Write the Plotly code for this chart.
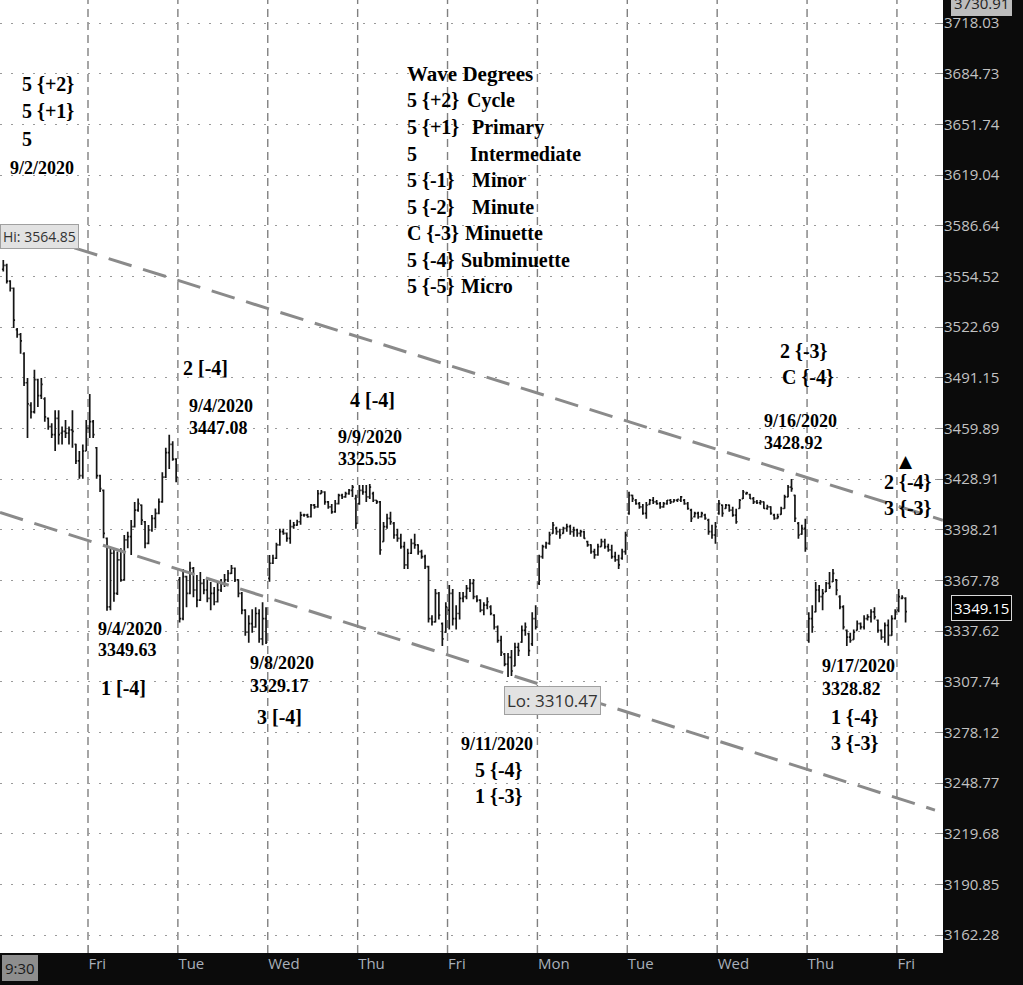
import plotly.graph_objects as go
import math

# ---------------- data: 15-minute OHLC bars per session (open, high, low, close)
thu_0903 = [
    (3559.0, 3564.85, 3557.5, 3561.5), (3561.5, 3562.5, 3550.0, 3551.5), (3551.5, 3552.0, 3545.0, 3547.0),
    (3547.0, 3547.5, 3522.0, 3527.0), (3521.0, 3522.0, 3516.0, 3518.0), (3518.0, 3519.0, 3506.0, 3514.0),
    (3506.0, 3507.0, 3486.0, 3488.0), (3488.0, 3491.0, 3454.0, 3475.0), (3474.0, 3476.0, 3466.0, 3470.0),
    (3470.0, 3496.0, 3469.0, 3490.0), (3490.0, 3490.5, 3473.0, 3480.0), (3480.0, 3491.0, 3478.0, 3487.0),
    (3478.0, 3479.0, 3464.0, 3467.0), (3466.0, 3466.5, 3459.0, 3461.0), (3461.0, 3463.0, 3454.0, 3456.0),
    (3456.0, 3471.0, 3446.0, 3466.0), (3466.0, 3471.0, 3450.0, 3456.0), (3457.0, 3461.0, 3450.0, 3458.0),
    (3458.0, 3465.0, 3454.0, 3457.0), (3457.0, 3461.0, 3450.0, 3459.0), (3459.0, 3471.0, 3448.0, 3458.0),
    (3450.0, 3450.5, 3438.0, 3440.0), (3440.0, 3446.0, 3429.0, 3431.0),
    (3431.0, 3450.0, 3429.0, 3446.0), (3446.0, 3465.0, 3446.0, 3460.0),
]
fri_0904 = [
    (3460.0, 3481.0, 3454.0, 3464.0), (3464.0, 3465.0, 3454.0, 3456.0), (3448.0, 3448.5, 3429.0, 3431.0),
    (3431.0, 3431.5, 3421.0, 3423.0), (3422.0, 3422.5, 3393.0, 3396.0), (3393.0, 3393.5, 3349.63, 3352.0),
    (3352.0, 3387.0, 3350.0, 3384.0), (3384.0, 3387.0, 3355.0, 3360.0), (3360.0, 3385.0, 3359.0, 3380.0),
    (3380.0, 3387.0, 3367.0, 3368.0), (3368.0, 3395.0, 3367.5, 3392.0), (3392.0, 3397.0, 3387.0, 3394.0),
    (3394.0, 3404.0, 3383.0, 3400.0), (3400.0, 3415.0, 3399.5, 3410.0), (3410.0, 3417.0, 3409.0, 3414.0),
    (3413.0, 3413.5, 3401.0, 3404.0), (3403.0, 3403.5, 3387.0, 3390.0), (3390.0, 3401.0, 3389.5, 3398.0),
    (3398.0, 3407.0, 3397.0, 3405.0), (3405.0, 3411.0, 3399.0, 3408.0), (3408.0, 3417.0, 3407.5, 3415.0),
    (3415.0, 3433.0, 3414.5, 3430.0), (3430.0, 3448.0, 3429.5, 3445.0), (3445.0, 3456.0, 3435.0, 3450.0),
    (3450.0, 3452.0, 3440.0, 3441.0), (3441.0, 3441.5, 3427.0, 3430.0),
]
tue_0908 = [
    (3368.0, 3369.8, 3342.7, 3345.0), (3345.0, 3374.6, 3344.0, 3370.0), (3370.0, 3370.5, 3351.7, 3360.0),
    (3360.0, 3378.9, 3359.5, 3375.0), (3375.0, 3375.8, 3357.7, 3362.0), (3362.0, 3371.0, 3351.7, 3356.0),
    (3356.0, 3372.8, 3355.5, 3366.0), (3366.0, 3368.6, 3359.5, 3362.0), (3362.0, 3368.6, 3354.7, 3357.0),
    (3357.0, 3366.8, 3350.0, 3360.0), (3360.0, 3363.8, 3352.9, 3355.0), (3355.0, 3366.8, 3354.5, 3362.0),
    (3362.0, 3368.6, 3360.8, 3366.0), (3366.0, 3371.6, 3363.8, 3368.0), (3368.0, 3374.0, 3366.8, 3372.0),
    (3372.0, 3377.0, 3371.6, 3375.0), (3375.0, 3375.5, 3366.8, 3368.0), (3368.0, 3368.5, 3357.7, 3360.0),
    (3360.0, 3360.8, 3347.5, 3350.0), (3350.0, 3350.5, 3334.8, 3337.0), (3337.0, 3346.9, 3330.6, 3342.0),
    (3342.0, 3350.5, 3336.6, 3340.0), (3340.0, 3351.7, 3339.5, 3348.0), (3348.0, 3350.5, 3330.6, 3333.0),
    (3333.0, 3354.7, 3329.17, 3345.0), (3345.0, 3351.7, 3330.0, 3331.0),
]
wed_0909 = [
    (3369.0, 3383.0, 3367.0, 3378.0), (3378.0, 3383.1, 3377.5, 3381.0), (3381.0, 3390.3, 3380.5, 3389.0),
    (3389.0, 3398.8, 3388.5, 3397.0), (3397.0, 3398.8, 3395.1, 3396.0), (3396.0, 3396.5, 3390.9, 3393.0),
    (3393.0, 3404.2, 3389.7, 3400.0), (3400.0, 3402.9, 3398.8, 3401.0), (3401.0, 3404.2, 3400.5, 3403.0),
    (3403.0, 3409.0, 3401.2, 3407.0), (3407.0, 3407.8, 3406.0, 3407.2), (3407.0, 3407.8, 3405.4, 3406.0),
    (3406.0, 3413.8, 3405.5, 3413.0), (3413.0, 3413.8, 3410.8, 3412.0), (3412.0, 3422.3, 3411.5, 3420.0),
    (3420.0, 3422.3, 3419.9, 3421.0), (3421.0, 3421.5, 3413.2, 3415.0), (3415.0, 3415.5, 3410.8, 3412.0),
    (3412.0, 3413.8, 3407.8, 3409.0), (3409.0, 3416.2, 3408.5, 3414.0), (3414.0, 3419.9, 3413.5, 3419.0),
    (3419.0, 3419.9, 3416.8, 3418.0), (3418.0, 3421.1, 3417.5, 3420.0), (3420.0, 3422.9, 3419.3, 3422.0),
    (3422.0, 3425.3, 3418.0, 3424.0), (3417.0, 3419.3, 3398.8, 3402.0),
]
thu_0910 = [
    (3414.0, 3425.3, 3413.2, 3422.0), (3422.0, 3425.3, 3419.3, 3421.0), (3421.0, 3425.3, 3415.0, 3418.0),
    (3418.0, 3425.9, 3416.8, 3424.0), (3420.0, 3421.1, 3415.0, 3416.0), (3416.0, 3416.2, 3413.8, 3415.0),
    (3415.0, 3415.5, 3383.1, 3386.0), (3391.0, 3402.9, 3390.9, 3400.0), (3400.0, 3407.8, 3398.8, 3405.0),
    (3405.0, 3409.0, 3401.2, 3403.0), (3402.0, 3402.9, 3392.7, 3395.0), (3395.0, 3398.8, 3390.9, 3393.0),
    (3393.0, 3395.7, 3386.7, 3388.0), (3388.0, 3390.9, 3374.6, 3377.0), (3377.0, 3386.7, 3374.6, 3384.0),
    (3384.0, 3392.7, 3383.5, 3390.0), (3390.0, 3395.7, 3386.7, 3389.0), (3389.0, 3389.5, 3383.1, 3385.0),
    (3385.0, 3386.1, 3380.7, 3382.0), (3382.0, 3383.1, 3374.6, 3376.0), (3376.0, 3376.5, 3342.7, 3345.0),
    (3345.0, 3346.9, 3340.9, 3343.0), (3343.0, 3362.6, 3342.7, 3360.0), (3360.0, 3360.8, 3344.5, 3347.0),
    (3342.0, 3342.7, 3328.8, 3333.0), (3337.0, 3354.7, 3336.6, 3352.0),
]
fri_0911 = [
    (3350.0, 3365.0, 3338.5, 3360.0), (3360.0, 3362.6, 3340.9, 3345.0), (3345.0, 3352.9, 3338.5, 3348.0),
    (3348.0, 3360.8, 3344.5, 3357.0), (3357.0, 3360.8, 3354.7, 3358.0), (3358.0, 3365.0, 3356.5, 3363.0),
    (3363.0, 3368.6, 3360.8, 3366.0), (3366.0, 3368.6, 3356.5, 3358.0), (3358.0, 3358.9, 3354.7, 3356.0),
    (3356.0, 3356.5, 3348.7, 3350.0), (3350.0, 3354.7, 3346.9, 3353.0), (3353.0, 3357.7, 3350.5, 3355.0),
    (3352.0, 3352.9, 3346.9, 3348.0), (3347.0, 3347.5, 3338.5, 3340.0), (3340.0, 3340.9, 3330.6, 3332.0),
    (3332.0, 3334.8, 3322.8, 3325.0), (3324.0, 3324.6, 3316.8, 3318.0), (3318.0, 3324.6, 3310.47, 3322.0),
    (3322.0, 3326.4, 3311.0, 3314.0), (3317.0, 3330.6, 3316.8, 3328.0), (3328.0, 3330.6, 3322.8, 3326.0),
    (3331.0, 3340.9, 3330.6, 3338.0), (3338.0, 3342.7, 3334.8, 3340.0), (3336.0, 3336.6, 3322.8, 3326.0),
    (3330.0, 3348.7, 3328.8, 3345.0), (3345.0, 3352.9, 3338.5, 3340.0),
]
mon_0914 = [
    (3366.0, 3383.1, 3365.0, 3382.0), (3382.0, 3389.1, 3380.7, 3388.0), (3388.0, 3390.9, 3386.7, 3390.0),
    (3390.0, 3396.9, 3389.1, 3395.0), (3396.0, 3402.9, 3395.7, 3401.0), (3399.0, 3400.0, 3395.1, 3397.0),
    (3397.0, 3398.8, 3392.7, 3395.0), (3396.0, 3400.0, 3395.7, 3399.0), (3399.0, 3401.8, 3396.9, 3400.0),
    (3400.0, 3401.2, 3395.1, 3397.0), (3397.0, 3400.0, 3393.9, 3398.0), (3398.0, 3398.8, 3393.9, 3396.0),
    (3396.0, 3398.2, 3393.9, 3397.0), (3397.0, 3397.5, 3392.7, 3393.0), (3391.0, 3391.5, 3387.9, 3389.0),
    (3389.0, 3389.5, 3383.7, 3385.0), (3385.0, 3386.7, 3380.7, 3383.0), (3383.0, 3389.7, 3382.5, 3388.0),
    (3388.0, 3392.7, 3387.9, 3391.0), (3391.0, 3392.7, 3386.7, 3388.0), (3388.0, 3389.7, 3384.9, 3386.0),
    (3386.0, 3389.1, 3380.7, 3382.0), (3382.0, 3384.9, 3378.9, 3380.0), (3380.0, 3383.1, 3374.6, 3377.0),
    (3381.0, 3386.7, 3380.1, 3385.0), (3385.0, 3396.9, 3383.1, 3395.0),
]
tue_0915 = [
    (3408.0, 3421.1, 3407.2, 3419.0), (3419.0, 3419.3, 3415.0, 3417.0), (3416.0, 3416.8, 3413.2, 3414.0),
    (3414.0, 3415.0, 3410.8, 3412.0), (3412.0, 3413.8, 3407.2, 3408.0), (3408.0, 3415.0, 3404.8, 3413.0),
    (3413.5, 3416.8, 3413.2, 3416.0), (3416.0, 3418.0, 3413.8, 3415.0), (3415.0, 3416.2, 3413.2, 3414.0),
    (3414.0, 3415.0, 3410.8, 3412.0), (3412.0, 3415.0, 3411.5, 3414.0), (3414.0, 3416.2, 3413.2, 3416.0),
    (3416.0, 3416.8, 3413.8, 3415.0), (3415.0, 3416.8, 3414.8, 3416.0), (3416.0, 3416.8, 3415.0, 3416.5),
    (3416.0, 3418.6, 3415.0, 3418.0), (3416.0, 3416.8, 3413.2, 3414.0), (3414.0, 3415.0, 3410.2, 3411.0),
    (3410.0, 3410.8, 3402.9, 3405.0), (3406.0, 3409.0, 3405.5, 3408.0), (3408.0, 3409.0, 3404.8, 3406.0),
    (3406.0, 3409.0, 3405.5, 3408.0), (3407.0, 3407.8, 3404.2, 3405.0), (3404.0, 3404.8, 3395.1, 3397.0),
    (3397.0, 3401.2, 3392.7, 3395.0), (3395.0, 3402.9, 3389.7, 3400.0),
]
wed_0916 = [
    (3408.0, 3416.2, 3407.2, 3414.0), (3413.0, 3413.5, 3406.0, 3408.0), (3411.0, 3413.8, 3410.8, 3413.0),
    (3413.0, 3413.5, 3409.0, 3410.0), (3410.0, 3412.0, 3406.0, 3407.0), (3407.0, 3410.8, 3401.8, 3403.0),
    (3411.0, 3416.8, 3410.8, 3416.0), (3417.0, 3422.3, 3416.8, 3421.0), (3420.0, 3421.1, 3419.3, 3420.5),
    (3419.5, 3419.9, 3416.8, 3417.0), (3417.0, 3418.0, 3413.8, 3415.0), (3415.0, 3416.2, 3413.8, 3414.5),
    (3414.5, 3416.2, 3413.2, 3415.0), (3415.0, 3415.2, 3410.8, 3411.0), (3411.0, 3413.2, 3410.2, 3412.0),
    (3412.0, 3412.3, 3407.2, 3408.0), (3407.0, 3407.8, 3404.2, 3405.0), (3405.0, 3407.8, 3404.8, 3406.0),
    (3407.5, 3412.0, 3407.2, 3411.0), (3411.0, 3419.3, 3410.8, 3418.0), (3418.0, 3425.3, 3417.8, 3424.0),
    (3424.0, 3428.92, 3421.1, 3423.0), (3419.0, 3419.3, 3402.9, 3405.0), (3402.0, 3402.9, 3392.7, 3395.0),
    (3395.5, 3401.2, 3395.1, 3399.0), (3399.0, 3404.8, 3384.9, 3387.0),
]
thu_0917 = [
    (3332.0, 3348.7, 3330.6, 3345.0), (3345.0, 3352.9, 3336.6, 3340.0), (3349.0, 3366.8, 3348.7, 3362.0),
    (3362.0, 3365.0, 3354.7, 3358.0), (3358.0, 3362.6, 3350.0, 3360.0), (3361.0, 3366.8, 3360.8, 3366.0),
    (3366.0, 3372.8, 3362.6, 3364.0), (3367.0, 3374.6, 3366.8, 3372.0), (3368.0, 3368.6, 3358.9, 3362.0),
    (3358.0, 3358.9, 3350.5, 3352.0), (3352.0, 3352.9, 3338.5, 3340.0), (3338.0, 3338.5, 3328.82, 3334.0),
    (3334.0, 3336.6, 3330.6, 3332.0), (3332.5, 3338.5, 3332.4, 3337.0), (3338.0, 3343.9, 3337.9, 3342.0),
    (3342.0, 3342.7, 3338.5, 3340.0), (3340.0, 3346.9, 3338.5, 3345.0), (3345.0, 3347.5, 3343.9, 3346.0),
    (3346.0, 3350.5, 3342.7, 3349.0), (3349.0, 3351.7, 3344.5, 3346.0), (3344.0, 3344.5, 3336.6, 3338.0),
    (3338.0, 3338.5, 3332.4, 3334.0), (3334.0, 3342.7, 3330.6, 3341.0), (3341.0, 3344.5, 3328.9, 3335.0),
    (3335.0, 3346.9, 3334.8, 3345.0), (3345.0, 3350.5, 3344.5, 3349.0),
]
fri_0918 = [
    (3350.0, 3362.6, 3348.7, 3358.0), (3357.0, 3358.9, 3356.5, 3357.5), (3357.0, 3357.7, 3342.7, 3349.15),
]

sessions = [thu_0903, fri_0904, tue_0908, wed_0909, thu_0910, fri_0911,
            mon_0914, tue_0915, wed_0916, thu_0917, fri_0918]
session_labels = ["9:30", "Fri", "Tue", "Wed", "Thu", "Fri", "Mon", "Tue", "Wed", "Thu", "Fri"]

price_ticks = [3162.28, 3190.85, 3219.68, 3248.77, 3278.12, 3307.74, 3337.62, 3367.78,
               3398.21, 3428.91, 3459.89, 3491.15, 3522.69, 3554.52, 3586.64, 3619.04,
               3651.74, 3684.73, 3718.03]

# trend channel (bar index, price)
upper_trend_x = [10.6, 271.8]
upper_trend_y = [3579.4, 3403.9]
lower_trend_x = [-0.95, 269.5]
lower_trend_y = [3408.6, 3233.2]

last_price = 3349.15
top_price = 3730.91

# ---------------- build series
idx, o, h, l, c = [], [], [], [], []
starts = []
k = 0
for s in sessions:
    starts.append(k)
    for (bo, bh, bl, bc) in s:
        idx.append(k); o.append(bo); h.append(bh); l.append(bl); c.append(bc)
        k += 1
boundaries = [st - 0.5 for st in starts]

W, H = 1023, 985
ML, MR, MT, MB = 0, 80, 0, 32
PW, PH = W - ML - MR, H - MT - MB


def px(xp):
    return (xp - ML) / PW


def py(yp):
    return 1 - (yp - MT) / PH


fig = go.Figure()

fig.add_trace(go.Ohlc(
    x=idx, open=o, high=h, low=l, close=c,
    increasing=dict(line=dict(color="#151515", width=1.7)),
    decreasing=dict(line=dict(color="#151515", width=1.7)),
    tickwidth=0.4, showlegend=False, hoverinfo="skip"))

for tx, ty in ((upper_trend_x, upper_trend_y), (lower_trend_x, lower_trend_y)):
    fig.add_trace(go.Scatter(x=tx, y=ty, mode="lines", showlegend=False, hoverinfo="skip",
                             line=dict(color="#8a8a8a", width=3, dash="24px,12px")))

shapes = []
for b in boundaries[1:]:
    shapes.append(dict(type="line", xref="x", yref="paper", x0=b, x1=b, y0=0, y1=1,
                       line=dict(color="#808080", width=1.4, dash="8px,5px"), layer="below"))

SERIF = "Liberation Serif, Times New Roman, serif"
SANS = "Open Sans, Noto Sans, sans-serif"

big_labels = [
    ("5 {+2}", 20, 84), ("5 {+1}", 20, 111), ("5", 20, 139),
    ("2 [-4]", 181, 368), ("4 [-4]", 348, 400),
    ("2 {-3}", 778, 351), ("C {-4}", 780, 377),
    ("2 {-4}", 882, 482), ("3 {-3}", 882, 508),
    ("1 [-4]", 99, 688), ("3 [-4]", 255, 717),
    ("5 {-4}", 473, 770), ("1 {-3}", 473, 796),
    ("1 {-4}", 829, 717), ("3 {-3}", 829, 743),
]
small_labels = [
    ("9/2/2020", 8, 168),
    ("9/4/2020", 187, 406), ("3447.08", 187, 428),
    ("9/9/2020", 336, 437), ("3325.55", 336, 459),
    ("9/16/2020", 762, 421), ("3428.92", 762, 443),
    ("9/4/2020", 96, 629), ("3349.63", 96, 650),
    ("9/8/2020", 248, 663), ("3329.17", 248, 686),
    ("9/11/2020", 459, 744),
    ("9/17/2020", 820, 666), ("3328.82", 820, 689),
]
legend_codes = ["Wave Degrees", "5 {+2}", "5 {+1}", "5", "5 {-1}", "5 {-2}", "C {-3}", "5 {-4}", "5 {-5}"]
legend_names = ["", "Cycle", "Primary", "Intermediate", "Minor", "Minute", "Minuette", "Subminuette", "Micro"]
legend_name_x = [0, 465, 470, 468, 470, 470, 463, 459, 459]

ann = []
for t, x, y in big_labels:
    ann.append(dict(text=t, x=px(x), y=py(y), xanchor="left", yanchor="middle",
                    font=dict(family=SERIF, size=20, color="#000", weight="bold")))
for t, x, y in small_labels:
    ann.append(dict(text=t, x=px(x), y=py(y), xanchor="left", yanchor="middle",
                    font=dict(family=SERIF, size=18, color="#000", weight="bold")))
for i, (code, name, nx) in enumerate(zip(legend_codes, legend_names, legend_name_x)):
    yy = 74 + i * 26.5
    ann.append(dict(text=code, x=px(405), y=py(yy), xanchor="left", yanchor="middle",
                    font=dict(family=SERIF, size=21 if i == 0 else 20, color="#000", weight="bold")))
    if name:
        ann.append(dict(text=name, x=px(nx), y=py(yy), xanchor="left", yanchor="middle",
                        font=dict(family=SERIF, size=20, color="#000", weight="bold")))

# marker triangle
ann.append(dict(text="▲", x=px(906), y=py(461), xanchor="center", yanchor="middle",
                font=dict(family="DejaVu Sans", size=17, color="#000")))

# Hi / Lo bubbles
ann.append(dict(text="Hi: %.2f" % max(h), x=px(0), y=py(236), xanchor="left", yanchor="middle",
                bgcolor="#e2e2e2", bordercolor="#a0a0a0", borderwidth=1, borderpad=2,
                font=dict(family=SANS, size=14, color="#333")))
ann.append(dict(text="Lo: %.2f" % min(l), x=px(552), y=py(700), xanchor="center", yanchor="middle",
                bgcolor="#e2e2e2", bordercolor="#a0a0a0", borderwidth=1, borderpad=2,
                font=dict(family=SANS, size=17, color="#333")))

# axis badges
ann.append(dict(text="%.2f" % top_price, x=px(981), y=py(3), xanchor="center", yanchor="middle",
                bgcolor="#bdbdbd", bordercolor="#bdbdbd", borderwidth=1, borderpad=2,
                font=dict(family=SANS, size=15, color="#222")))
ann.append(dict(text="%.2f" % last_price, x=px(981), y=py(608), xanchor="center", yanchor="middle",
                bgcolor="#000", bordercolor="#d8d8d8", borderwidth=1, borderpad=2,
                font=dict(family=SANS, size=15, color="#fff")))
ann.append(dict(text=session_labels[0], x=px(2), y=py(968), xanchor="left", yanchor="middle",
                bgcolor="#8e8e8e", bordercolor="#8e8e8e", borderwidth=1, borderpad=2,
                font=dict(family=SANS, size=15, color="#1a1a1a")))

for a in ann:
    a.update(xref="paper", yref="paper", showarrow=False)

SCALE = 3.457  # pixels per bar
y_lo = math.log10(3162.28) - 18 / 12971
y_hi = math.log10(3718.03) + 23 / 12971
x_lo = boundaries[1] - 88 / SCALE
x_hi = x_lo + PW / SCALE

fig.update_layout(
    width=W, height=H,
    margin=dict(l=ML, r=MR, t=MT, b=MB),
    paper_bgcolor="#0b0b0b", plot_bgcolor="#ffffff",
    showlegend=False, shapes=shapes, annotations=ann,
    xaxis=dict(range=[x_lo, x_hi], rangeslider=dict(visible=False),
               tickmode="array", tickvals=boundaries[1:], ticktext=session_labels[1:],
               ticks="inside", ticklen=8, tickcolor="#8a8a8a", tickwidth=1,
               ticklabelposition="outside right",
               tickfont=dict(family=SANS, size=15, color="#a9b0ba"),
               showgrid=False, zeroline=False, showline=False, fixedrange=True),
    yaxis=dict(type="log", side="right", range=[y_lo, y_hi],
               tickmode="array", tickvals=price_ticks, ticktext=["%.2f" % v for v in price_ticks],
               ticks="inside", ticklen=6, tickcolor="#8a8a8a", tickwidth=1,
               tickfont=dict(family=SANS, size=15, color="#c2c2c2"),
               showgrid=True, gridcolor="#9a9a9a", griddash="2px,9px", gridwidth=1,
               zeroline=False, showline=False, fixedrange=True),
)

fig.write_html("out.html", config={"displayModeBar": False},
               post_script="document.body.style.margin='0';document.body.style.background='#0b0b0b';")
